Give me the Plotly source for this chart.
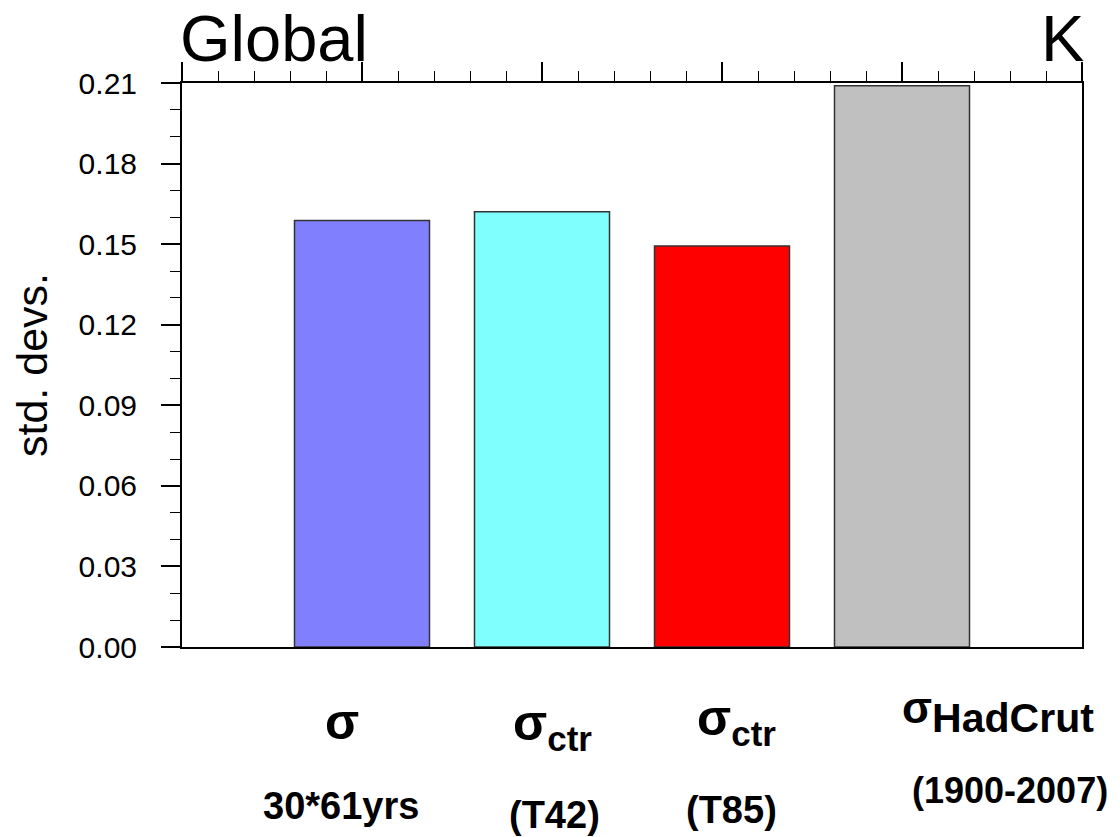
import plotly.graph_objects as go

# ---- data ----
categories = ["sigma", "sigma_ctr_T42", "sigma_ctr_T85", "sigma_HadCrut"]
positions = [1, 2, 3, 4]
std_devs = [0.1588, 0.1621, 0.1493, 0.2090]
bar_colors = ["#8080FF", "#80FFFF", "#FF0000", "#C0C0C0"]
label_top = ["σ", "σ<sub>ctr</sub>", "σ<sub>ctr</sub>",
             "σ<sub><span style='font-size:41px'>HadCrut</span></sub>"]
label_bottom = ["30*61yrs", "(T42)", "(T85)", "(1900-2007)"]
y_ticks = [0.00, 0.03, 0.06, 0.09, 0.12, 0.15, 0.18, 0.21]

# ---- layout helpers (pixel geometry; page body margin removed below) ----
W, H = 1120, 837
L, R, T, B = 182, 38, 83, 190
ph = H - T - B


def py(pix):
    # pix given in reference-screenshot pixels
    return (H - B - pix) / ph


top_x = [0.889, 2.056, 3.078, 4.533]
top_y = [py(722), py(726), py(722), py(712)]
top_size = [50, 50, 50, 44]
bot_x = [0.883, 2.067, 3.05, 4.6]
bot_y = [py(806), py(815), py(810), py(790)]
bot_size = [38, 38, 38, 36]

FONT = "Liberation Sans, Arial, sans-serif"

fig = go.Figure()
fig.add_trace(go.Bar(
    x=positions, y=std_devs, width=0.75,
    marker=dict(color=bar_colors, line=dict(color="#333333", width=1.5)),
    showlegend=False, hoverinfo="y",
))
# invisible trace for top axis
fig.add_trace(go.Scatter(x=[0, 5], y=[0, 0], xaxis="x2", mode="markers",
                         marker=dict(opacity=0), showlegend=False, hoverinfo="skip"))

fig.update_layout(
    width=W, height=H,
    margin=dict(l=L, r=R, t=T, b=B, autoexpand=False),
    plot_bgcolor="white", paper_bgcolor="white",
    font=dict(family=FONT, color="black"),
    xaxis=dict(range=[0, 5], showticklabels=False, ticks="", showgrid=False,
               zeroline=False, showline=True, linecolor="black", linewidth=2,
               automargin=False),
    xaxis2=dict(range=[0, 5], overlaying="x", side="top", showticklabels=False,
                tickmode="linear", tick0=0, dtick=1, ticks="outside", ticklen=19,
                tickwidth=2, tickcolor="black", automargin=False,
                minor=dict(dtick=0.2, tick0=0, ticks="outside", ticklen=10, tickwidth=1,
                           tickcolor="black", showgrid=False),
                showgrid=False, zeroline=False, showline=True, linecolor="black", linewidth=2),
    yaxis=dict(range=[0, 0.21], tickvals=y_ticks, tickformat=".2f",
               ticks="outside", ticklen=19, tickwidth=2, tickcolor="black",
               minor=dict(dtick=0.01, tick0=0, ticks="outside", ticklen=10, tickwidth=1,
                          tickcolor="black", showgrid=False),
               showgrid=False, zeroline=False, showline=True, linecolor="black",
               linewidth=2, mirror=True, automargin=False,
               tickfont=dict(size=30, family=FONT), ticklabelstandoff=18,
               title=dict(text="std. devs.", font=dict(size=43, family=FONT), standoff=18)),
)

ann = []
ann.append(dict(text="Global", x=0, y=1, xref="paper", yref="paper", xanchor="left",
                yanchor="bottom", yshift=6, xshift=-4, showarrow=False,
                font=dict(size=65, family=FONT)))
ann.append(dict(text="K", x=1, y=1, xref="paper", yref="paper", xanchor="right",
                yanchor="bottom", yshift=6, xshift=4, showarrow=False,
                font=dict(size=65, family=FONT)))
for i in range(len(categories)):
    ann.append(dict(text="<b>" + label_top[i] + "</b>", x=top_x[i], y=top_y[i],
                    xref="x", yref="paper", xanchor="center", yanchor="middle",
                    showarrow=False, font=dict(size=top_size[i], family=FONT)))
    ann.append(dict(text="<b>" + label_bottom[i] + "</b>", x=bot_x[i], y=bot_y[i],
                    xref="x", yref="paper", xanchor="center", yanchor="middle",
                    showarrow=False, font=dict(size=bot_size[i], family=FONT)))
fig.update_layout(annotations=ann)

fig.write_html("out.html", config={"displayModeBar": False},
               post_script="document.body.style.margin='0';document.body.style.padding='0';")
